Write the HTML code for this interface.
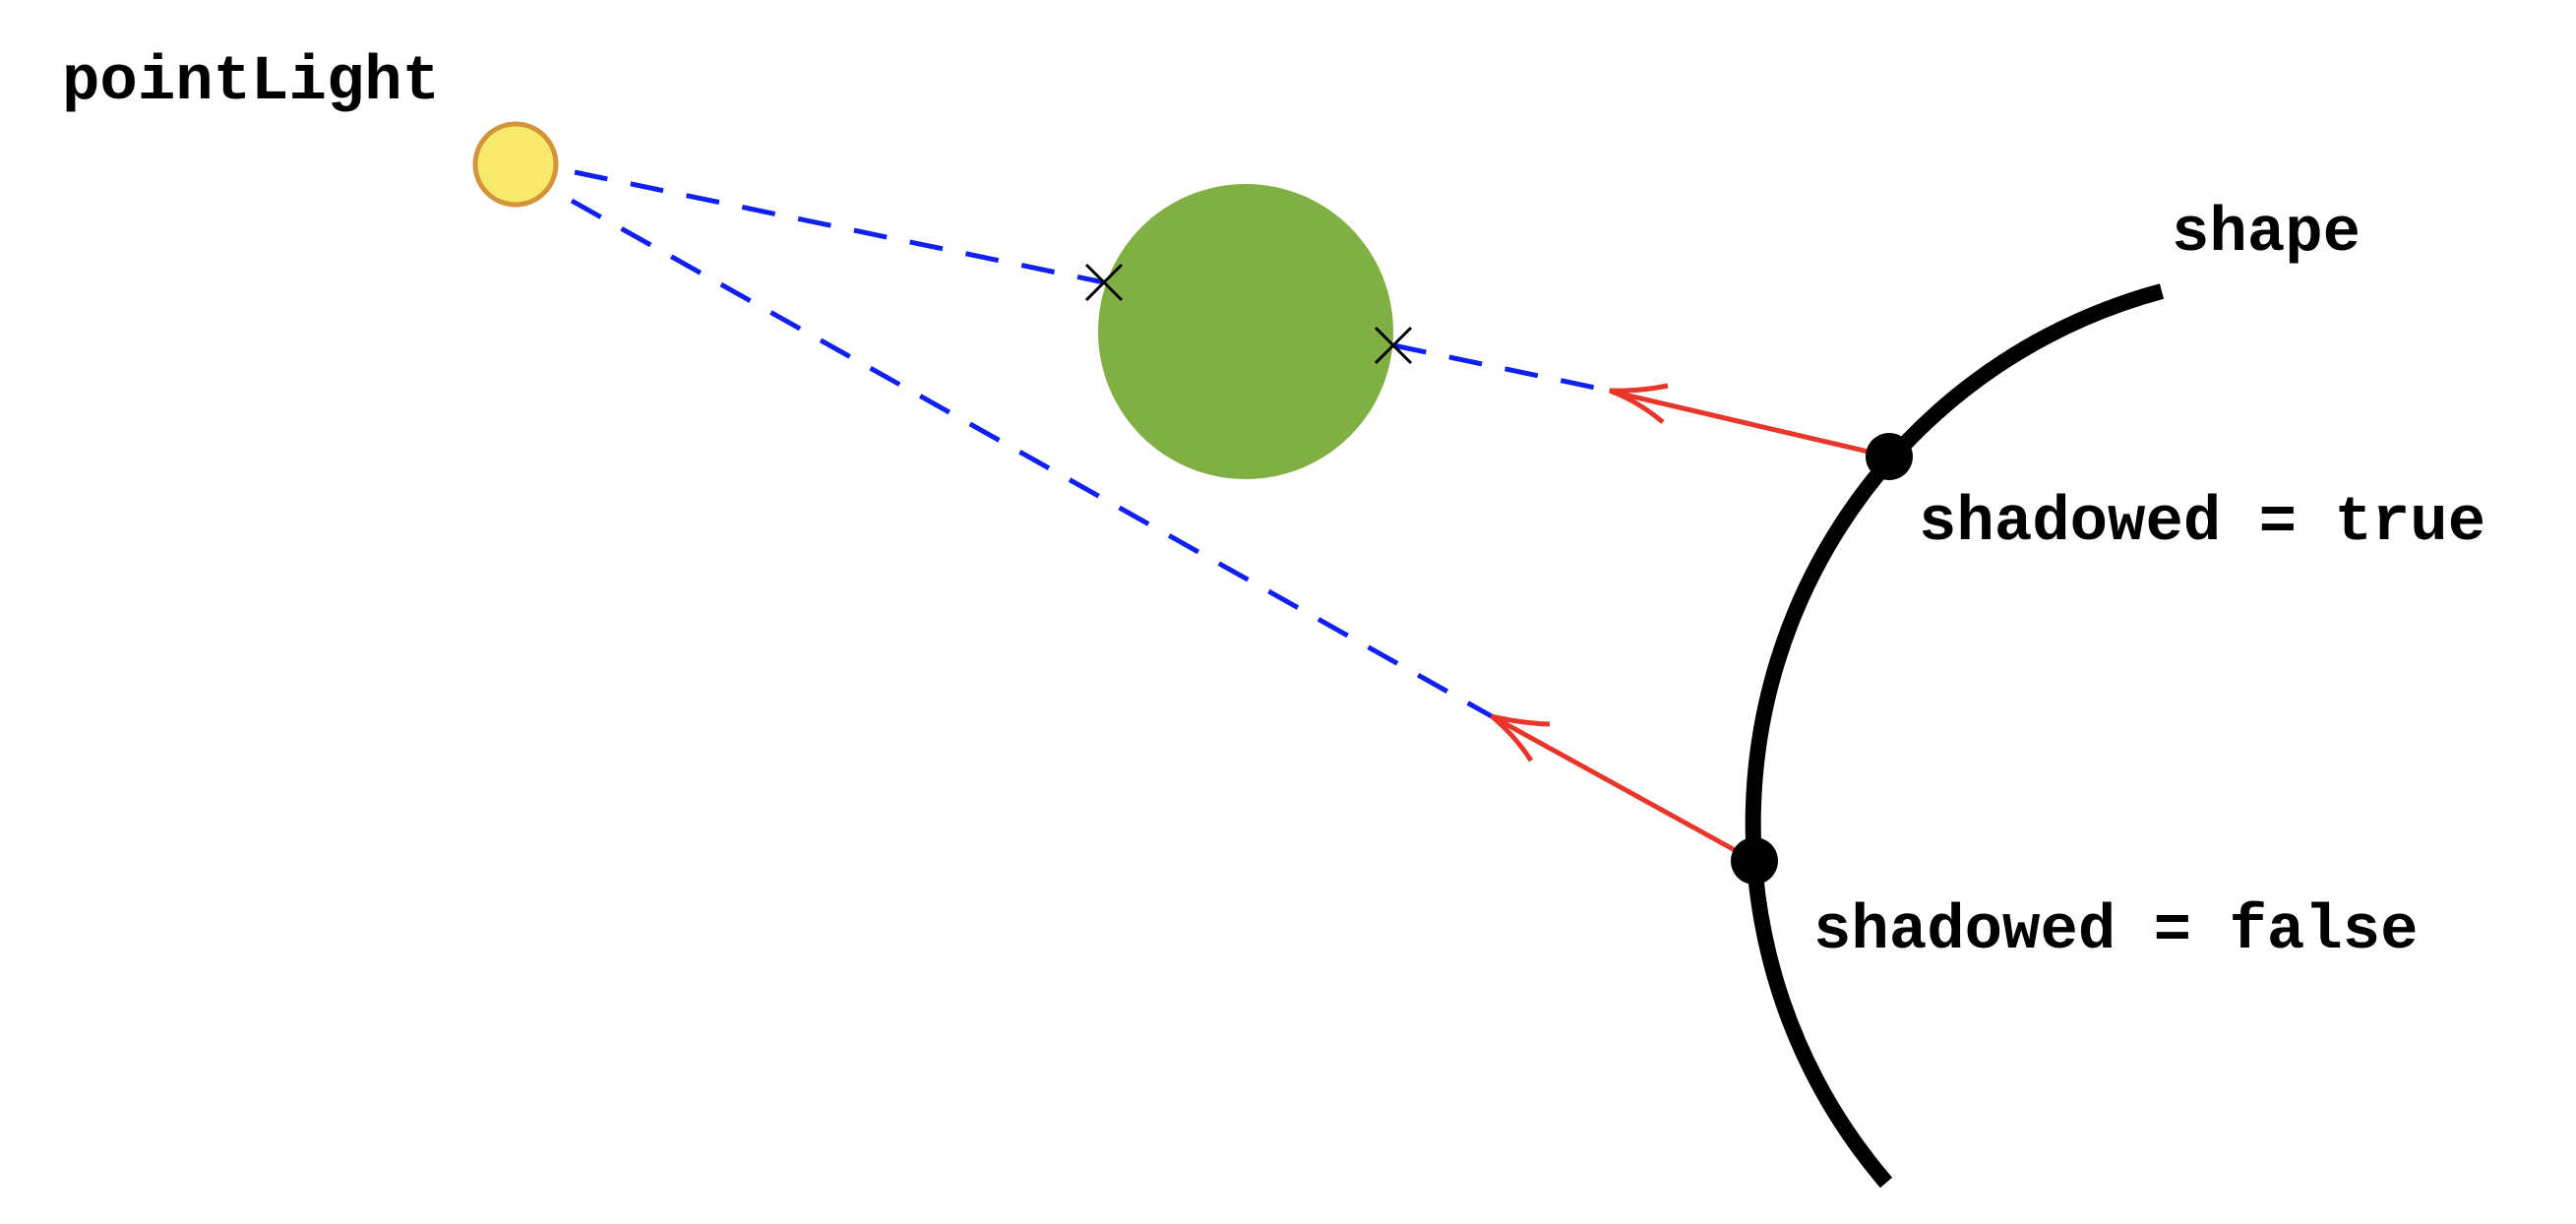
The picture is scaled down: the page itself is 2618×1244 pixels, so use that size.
<!DOCTYPE html>
<html><head><meta charset="utf-8"><style>
html,body{margin:0;padding:0;background:#fff;}
svg{display:block;}
text{font-family:"Liberation Mono",monospace;font-weight:bold;font-size:64px;fill:#000;}
</style></head><body>
<svg width="2618" height="1244" viewBox="0 0 2618 1244">
<text x="63" y="100">pointLight</text>
<text x="2207" y="254">shape</text>
<text x="1950" y="548">shadowed = true</text>
<text x="1843" y="963">shadowed = false</text>

<circle cx="1266" cy="337" r="150" fill="#80B044"/>

<line x1="584" y1="175" x2="1122" y2="287" stroke="#1020F0" stroke-width="5" stroke-dasharray="34 24"/>
<line x1="1416" y1="351" x2="1640" y2="398" stroke="#1020F0" stroke-width="5" stroke-dasharray="34 24"/>
<line x1="581" y1="204" x2="1516" y2="728" stroke="#1020F0" stroke-width="5" stroke-dasharray="34 24"/>

<circle cx="524" cy="167" r="41" fill="#F7E96C" stroke="#D4953A" stroke-width="5"/>

<path d="M1104,269 L1140,305 M1140,269 L1104,305" stroke="#000" stroke-width="3"/>
<path d="M1398,333 L1434,369 M1434,333 L1398,369" stroke="#000" stroke-width="3"/>

<path d="M2197,296 A560,560 0 0 0 1917,1202" fill="none" stroke="#000" stroke-width="16"/>

<line x1="1920" y1="464" x2="1638" y2="398" stroke="#E8372A" stroke-width="5"/>
<path d="M1695,392 Q1665,398 1636,397 Q1665,408 1690,429" fill="none" stroke="#E8372A" stroke-width="5"/>
<line x1="1783" y1="875" x2="1518" y2="729" stroke="#E8372A" stroke-width="5"/>
<path d="M1575,736 Q1545,735 1516,728 Q1540,748 1556,773" fill="none" stroke="#E8372A" stroke-width="5"/>

<circle cx="1920" cy="464" r="24" fill="#000"/>
<circle cx="1783" cy="875" r="24" fill="#000"/>
</svg>
</body></html>
